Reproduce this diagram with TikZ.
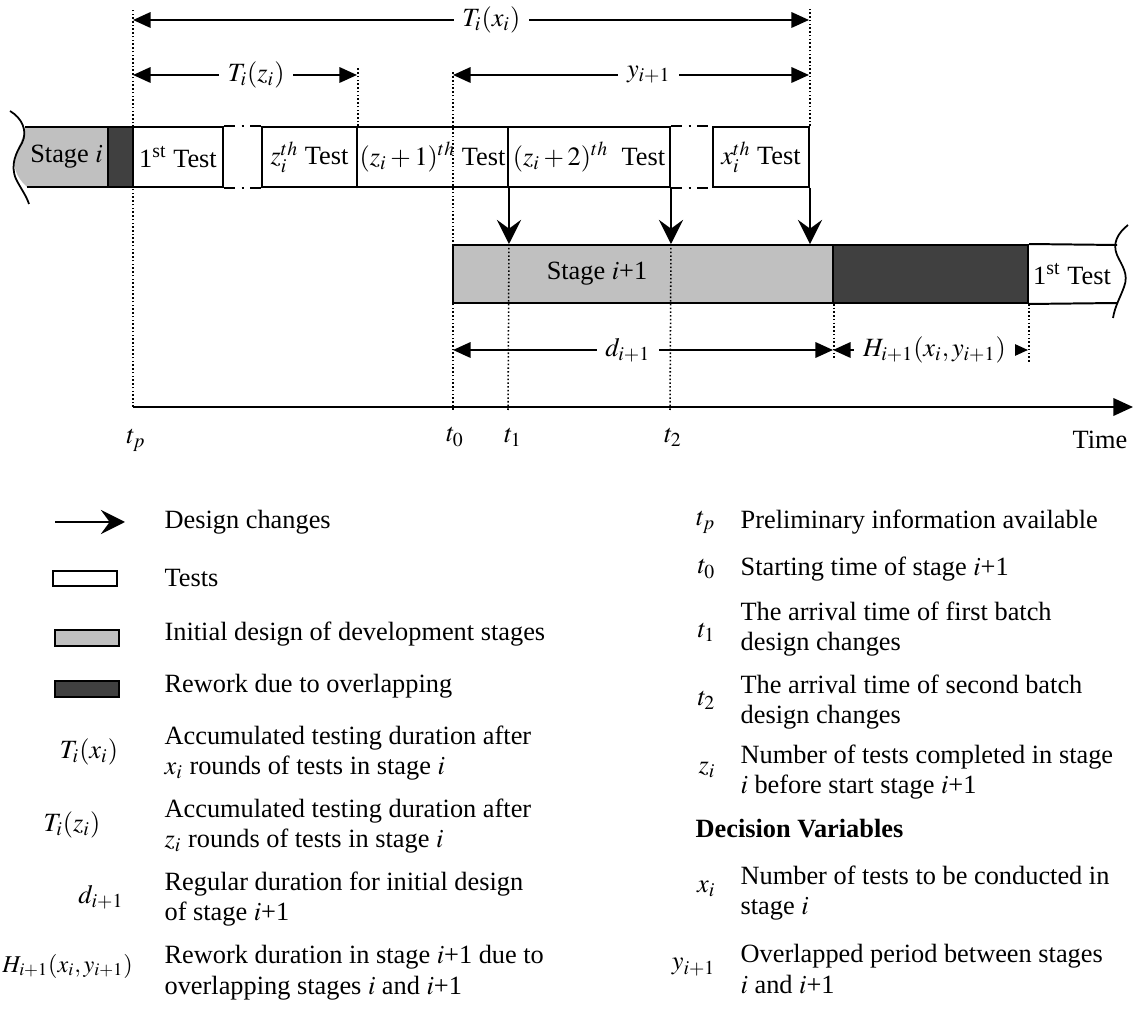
\documentclass[tikz,border=0pt]{standalone}
\usepackage{mathptmx}
\usepackage{fontspec}
\setmainfont{Liberation Serif}
\usetikzlibrary{arrows.meta,positioning,fit}
\definecolor{stagegray}{RGB}{192,192,192}
\definecolor{reworkgray}{RGB}{64,64,64}

\begin{document}
\begin{tikzpicture}[x=0.016cm,y=-0.016cm,
 every node/.style={font=\fontsize{12}{14}\selectfont},
 cell/.style={draw,line width=0.9pt,inner sep=0pt},
 testcell/.style={cell,fill=white},
 stagecell/.style={cell,fill=stagegray},
 reworkcell/.style={cell,fill=reworkgray},
 guide/.style={densely dotted,line width=0.7pt},
 span/.style={{Triangle[length=8pt,width=7pt]}-{Triangle[length=8pt,width=7pt]},line width=1pt},
 change/.style={-{Stealth[length=11pt,width=11pt,inset=4pt]},line width=1pt},
 gapline/.style={dash pattern=on 5pt off 3pt on 1pt off 3pt,line width=0.9pt},
 sym/.style={anchor=east,inner sep=1pt},
 note/.style={anchor=west,align=left,inner sep=1pt}]
\useasboundingbox (0,0) rectangle (1137,1014);

% stage i, open to the left
\fill[stagegray] (25,127) -- (108,127) -- (108,187) -- (27,187)
 .. controls (16,177) and (11,165) .. (17,151) .. controls (21,141) and (25,133) .. (25,127);
\draw[line width=0.9pt] (108,127) -- (25,127) (27,187) -- (108,187);
\draw[line width=0.8pt] (10,111) .. controls (22,118) and (28,131) .. (22,143)
 .. controls (16,153) and (10,165) .. (16,179) .. controls (21,189) and (26,195) .. (29,204);
\node[fit={(25,127)(108,187)},inner sep=0pt,label=center:{Stage $i$}] (stagei) {};
\node[reworkcell,fit={(108,127)(133,187)}] (rwi) {};
\node[testcell,fit={(133,127)(223,187)},label=center:{1\textsuperscript{st} Test}] (testa) {};
\node[testcell,fit={(262,127)(357,187)},label=center:{$z_i^{th}$ Test}] (testz) {};
\node[testcell,fit={(357,127)(508,187)},label=center:{$(z_i+1)^{th}$ Test}] (testza) {};
\node[testcell,fit={(508,127)(670,187)},label=center:{$(z_i+2)^{th}$\ \ Test}] (testzb) {};
\node[testcell,fit={(713,127)(809,187)},label=center:{$x_i^{th}$ Test}] (testx) {};
\draw[gapline] (testa.north east) -- (testz.north west);
\draw[gapline] (testa.south east) -- (testz.south west);
\draw[gapline] (testzb.north east) -- (testx.north west);
\draw[gapline] (testzb.south east) -- (testx.south west);

% stage i+1
\node[stagecell,fit={(453,245)(833,303)}] (stagej) {};
\node (stagejtext) at (597,274) {Stage $i$+1};
\node[reworkcell,fit={(833,245)(1028,303)}] (rwj) {};
\node[fit={(1028,245)(1116,303)},inner sep=0pt,label=center:{1\textsuperscript{st} Test}] (testj) {};
\draw[line width=0.9pt] (rwj.north east) -- (1117,245) (rwj.south east) -- (1117,303);
\draw[line width=0.8pt] (1128,225) .. controls (1118,233) and (1112,243) .. (1117,255)
 .. controls (1122,266) and (1129,274) .. (1124,287) .. controls (1120,298) and (1115,306) .. (1113,318);

% design changes
\draw[change] (testza.south east) -- (testza.south east |- stagej.north);
\draw[change] (testzb.south east) -- (testzb.south east |- stagej.north);
\draw[change] (testx.south east) -- (testx.south east |- stagej.north);

% time marks
\coordinate (tp) at (133,407);
\coordinate (t0) at (453,407);
\coordinate (t1) at (508,407);
\coordinate (t2) at (670,407);
\coordinate (tend) at (1133,407);
\draw[guide] (tp) -- ++(0,-399);
\draw[guide] (t0) ++(0,3) -- ++(0,-338);
\draw[guide] (t1) ++(0,3) -- (testza.south east |- stagej.north);
\draw[guide] (t2) ++(0,3) -- (testzb.south east |- stagej.north);
\draw[guide] (testz.north east) -- ++(0,-59);
\draw[guide] (testx.north east) -- ++(0,-119);
\draw[guide] (stagej.south east) -- ++(0,55);
\draw[guide] (rwj.south east) -- ++(0,58);
\draw[-{Triangle[length=9pt,width=8pt]},line width=1pt] (tp) -- (tend);

% durations
\coordinate (txa) at (133,20);
\coordinate (txb) at (809,20);
\coordinate (tza) at (133,75);
\coordinate (tzb) at (357,75);
\coordinate (ya) at (453,75);
\coordinate (yb) at (809,75);
\coordinate (da) at (453,350);
\coordinate (db) at (833,350);
\coordinate (hb) at (1028,350);
\draw[span] (txa) -- node[pos=.53,fill=white,inner sep=4pt]{$T_i(x_i)$} (txb);
\draw[span] (tza) -- node[pos=.55,fill=white,inner sep=4pt]{$T_i(z_i)$} (tzb);
\draw[span] (ya) -- node[pos=.55,fill=white,inner sep=4pt]{$y_{i+1}$} (yb);
\draw[span] (da) -- node[pos=.46,fill=white,inner sep=4pt]{$d_{i+1}$} (db);
\draw[span] (db) -- node[pos=.52,fill=white,inner sep=4pt]{$H_{i+1}(x_i,y_{i+1})$} (hb);

\node (tpl) at (136,440) {$t_p$};
\node (t0l) at (455,437) {$t_0$};
\node (t1l) at (513,437) {$t_1$};
\node (t2l) at (673,437) {$t_2$};
\node (timel) at (1100,440) {Time};

% legend, left
\coordinate (lga) at (55,522);
\draw[change] (lga) -- ++(70,0);
\node[note] (lg1) at (162,522) {Design changes};
\node[testcell,fit={(53,571)(117,586)}] (lgtest) {};
\node[note] (lg2) at (162,578) {Tests};
\node[stagecell,fit={(55,630)(119,646)}] (lgstage) {};
\node[note] (lg3) at (162,634) {Initial design of development stages};
\node[reworkcell,fit={(55,681)(119,697)}] (lgrw) {};
\node[note] (lg4) at (162,686) {Rework due to overlapping};
\node (lgtx) at (89,752) {$T_i(x_i)$};
\node[note] (lg5) at (162,753) {Accumulated testing duration after\\ $x_i$ rounds of tests in stage $i$};
\node (lgtz) at (72,825) {$T_i(z_i)$};
\node[note] (lg6) at (162,826) {Accumulated testing duration after\\$z_i$ rounds of tests in stage $i$};
\node (lgd) at (101,897) {$d_{i+1}$};
\node[note] (lg7) at (162,899) {Regular duration for initial design\\of stage $i$+1};
\node[anchor=west,inner sep=0pt,font=\fontsize{11}{13}\selectfont] (lgh) at (2,966) {$H_{i+1}(x_i,y_{i+1})$};
\node[note] (lg8) at (162,973) {Rework duration in stage $i$+1 due to\\overlapping stages $i$ and $i$+1};

% legend, right
\node[sym] (rgp) at (718,522) {$t_p$};
\node[note] (rg1) at (738,522) {Preliminary information available};
\node[sym] (rg0) at (718,569) {$t_0$};
\node[note] (rg2) at (738,569) {Starting time of stage $i$+1};
\node[sym] (rgt1) at (718,632) {$t_1$};
\node[note] (rg3) at (738,629) {The arrival time of first batch\\design changes};
\node[sym] (rgt2) at (718,700) {$t_2$};
\node[note] (rg4) at (738,702) {The arrival time of second batch\\design changes};
\node[sym] (rgz) at (718,770) {$z_i$};
\node[note] (rg5) at (738,772) {Number of tests completed in stage\\$i$ before start stage $i$+1};
\node[note] (rgdv) at (693,829) {\bfseries Decision Variables};
\node[sym] (rgx) at (718,889) {$x_i$};
\node[note] (rg6) at (738,893) {Number of tests to be conducted in\\stage $i$};
\node[sym] (rgy) at (718,967) {$y_{i+1}$};
\node[note] (rg7) at (738,969) {Overlapped period between stages\\$i$ and $i$+1};
\end{tikzpicture}
\end{document}
